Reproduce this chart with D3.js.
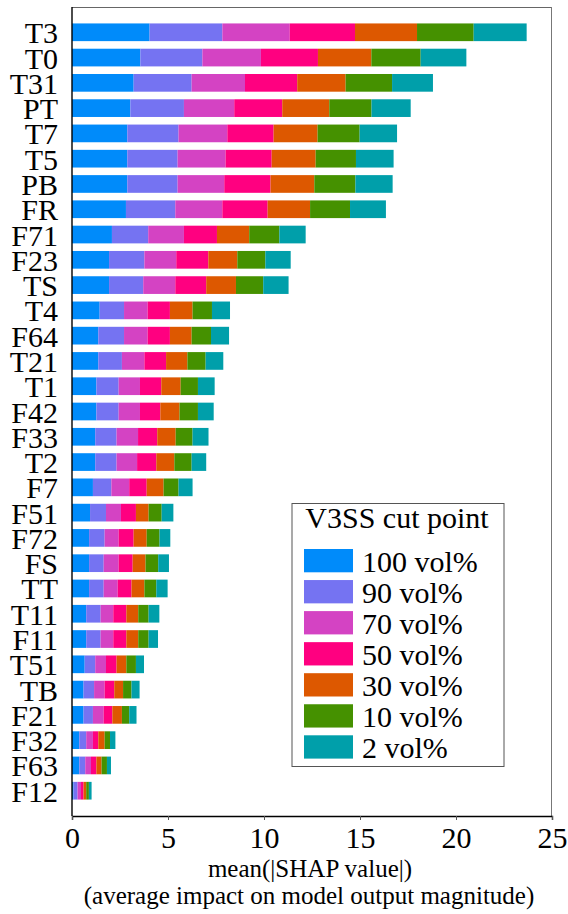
<!DOCTYPE html>
<html><head><meta charset="utf-8">
<script src="https://cdn.jsdelivr.net/npm/d3@7"></script>
<style>
#chart text{font-family:"Times New Roman";}
</style>
</head>
<body style="margin:0;background:#fff">
<div id="chart"></div>
<script>
const features = ["T3","T0","T31","PT","T7","T5","PB","FR","F71","F23","TS","T4","F64","T21","T1","F42","F33","T2","F7","F51","F72","FS","TT","T11","F11","T51","TB","F21","F32","F63","F12"];
const seriesNames = ["100 vol%","90 vol%","70 vol%","50 vol%","30 vol%","10 vol%","2 vol%"];
const seriesColors = ["#008bfa","#7573f2","#d443c3","#ff0080","#dd5800","#459100","#009faa"];
const v100 = [4.04,3.56,3.21,3.04,2.88,2.88,2.88,2.81,2.08,1.93,1.93,1.44,1.37,1.37,1.27,1.27,1.21,1.21,1.09,0.94,0.89,0.89,0.89,0.74,0.74,0.66,0.60,0.60,0.38,0.38,0.08];
const v90  = [3.79,3.23,3.02,2.79,2.67,2.62,2.62,2.57,1.89,1.84,1.78,1.27,1.34,1.23,1.16,1.16,1.11,1.11,0.96,0.83,0.81,0.76,0.76,0.75,0.75,0.55,0.55,0.49,0.36,0.31,0.21];
const v70  = [3.51,3.05,2.78,2.62,2.54,2.50,2.43,2.45,1.86,1.66,1.67,1.23,1.23,1.17,1.11,1.11,1.12,1.07,0.93,0.78,0.73,0.78,0.73,0.66,0.66,0.56,0.55,0.56,0.35,0.30,0.18];
const v50  = [3.40,2.97,2.72,2.50,2.41,2.40,2.41,2.36,1.72,1.67,1.61,1.16,1.16,1.13,1.11,1.06,1.00,1.00,0.91,0.78,0.78,0.73,0.72,0.68,0.68,0.55,0.50,0.45,0.28,0.28,0.13];
const v30  = [3.23,2.78,2.52,2.45,2.29,2.29,2.28,2.21,1.68,1.51,1.55,1.18,1.13,1.11,1.01,1.00,0.96,0.94,0.88,0.66,0.68,0.67,0.67,0.62,0.62,0.51,0.46,0.50,0.33,0.27,0.14];
const v10  = [2.95,2.57,2.42,2.20,2.19,2.10,2.14,2.08,1.57,1.46,1.42,1.01,1.01,0.95,0.90,0.96,0.88,0.90,0.78,0.68,0.67,0.66,0.62,0.54,0.54,0.50,0.44,0.38,0.28,0.28,0.14];
const v2   = [2.76,2.38,2.13,2.04,1.95,1.96,1.94,1.87,1.37,1.32,1.32,0.94,0.94,0.92,0.87,0.82,0.83,0.76,0.73,0.61,0.56,0.56,0.59,0.56,0.49,0.42,0.42,0.38,0.28,0.21,0.14];
const xTicks = [0,5,10,15,20,25];
const xLabel1 = "mean(|SHAP value|)";
const xLabel2 = "(average impact on model output magnitude)";
const legendTitle = "V3SS cut point";

const FONT = `"Times New Roman"`;
const seriesValues = [v100,v90,v70,v50,v30,v10,v2];
const rows = features.map((f,i)=>{const o={feature:f}; seriesNames.forEach((s,j)=>o[s]=seriesValues[j][i]); return o;});
const stacked = d3.stack().keys(seriesNames)(rows);

const svg = d3.select("#chart").append("svg")
  .attr("width",568).attr("height",914)
  .style("display","block");
const L=72, R=552, T=7, B=816;
const x = d3.scaleLinear().domain([0,25]).range([L,R]);
const yIdx = d3.scaleLinear().domain([-1, features.length]).range([T,B]);
const barH = 0.7*(yIdx(1)-yIdx(0));

function label(sel){ return sel.style("font-family",FONT).attr("fill","#000"); }

svg.append("g").selectAll("g").data(stacked).join("g")
  .attr("fill",(d,i)=>seriesColors[i])
  .selectAll("rect").data(d=>d.map((p,i)=>({p,i}))).join("rect")
  .attr("x",d=>x(d.p[0]))
  .attr("width",d=>x(d.p[1])-x(d.p[0]))
  .attr("y",d=>yIdx(d.i)-barH/2)
  .attr("height",barH);

svg.append("line").attr("x1",L).attr("x2",R).attr("y1",T+0.5).attr("y2",T+0.5).attr("stroke","#666").attr("stroke-width",1);
svg.append("line").attr("x1",R-0.5).attr("x2",R-0.5).attr("y1",T).attr("y2",B).attr("stroke","#777").attr("stroke-width",1);
svg.append("line").attr("x1",L).attr("x2",L).attr("y1",T).attr("y2",B).attr("stroke","#000").attr("stroke-width",1.4);

const xAxis = svg.append("g").attr("transform",`translate(0,${B})`)
  .call(d3.axisBottom(x).tickValues(xTicks).tickSize(4).tickPadding(8).tickFormat(d3.format("d")));
xAxis.attr("font-family",null).attr("font-size",null);
xAxis.select(".domain").attr("stroke","#000").attr("stroke-width",1.4);
xAxis.selectAll(".tick line").attr("stroke","#555");
xAxis.selectAll(".tick text").attr("dy",null).attr("y",32).attr("font-size",30).call(label);

features.forEach((f,i)=>{
  svg.append("text").attr("x",58).attr("y",yIdx(i)+11)
    .attr("text-anchor","end").attr("font-size",30).call(label).text(f);
});

svg.append("text").attr("x",310).attr("y",877).attr("text-anchor","middle").attr("font-size",25).call(label).text(xLabel1);
svg.append("text").attr("x",309).attr("y",904).attr("text-anchor","middle").attr("font-size",25).call(label).text(xLabel2);

const lg = svg.append("g");
lg.append("rect").attr("x",292).attr("y",503.5).attr("width",212).attr("height",263)
  .attr("fill","#fff").attr("stroke","#555").attr("stroke-width",1);
lg.append("text").attr("x",397).attr("y",528).attr("text-anchor","middle").attr("font-size",30).call(label).text(legendTitle);
const ly = d3.scaleLinear().domain([0,1]).range([549,580.05]);
seriesNames.forEach((s,i)=>{
  lg.append("rect").attr("x",304).attr("y",ly(i)).attr("width",49).attr("height",23.3).attr("fill",seriesColors[i]);
  lg.append("text").attr("x",362).attr("y",ly(i)+22.5).attr("font-size",30).call(label).text(s);
});
</script>
</body></html>
